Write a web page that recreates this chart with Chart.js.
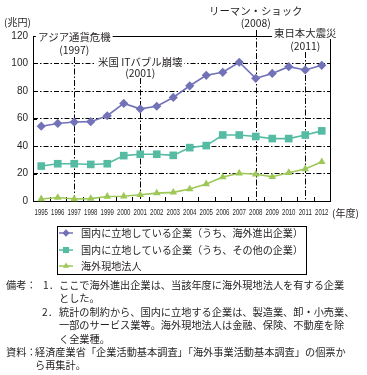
<!DOCTYPE html>
<html>
<head>
<meta charset="utf-8">
<script src="https://cdn.jsdelivr.net/npm/chart.js@4.4.0/dist/chart.umd.min.js"></script>
<style>
  body { margin:0; background:#fff; width:367px; height:375px; overflow:hidden; position:relative;
         font-family:"Noto Sans CJK JP", sans-serif; color:#231f20; }
  #c { position:absolute; left:0; top:0; }
  .n { position:absolute; font-size:10.2px; line-height:13.4px; white-space:nowrap; }
</style>
</head>
<body>
<canvas id="c" width="367" height="278"></canvas>

<div class="n" style="left:6px;top:278px">備考：</div>
<div class="n" style="left:43px;top:278px">1．</div>
<div class="n" style="left:59px;top:278px">ここで海外進出企業は、当該年度に海外現地法人を有する企業<br>とした。</div>
<div class="n" style="left:42px;top:305px">2．</div>
<div class="n" style="left:59px;top:305px">統計の制約から、国内に立地する企業は、製造業、卸・小売業、<br>一部のサービス業等。海外現地法人は金融、保険、不動産を除<br>く全業種。</div>
<div class="n" style="left:6px;top:345px">資料：</div>
<div class="n" style="left:35px;top:345px">経済産業省「企業活動基本調査」「海外事業活動基本調査」の個票か<br>ら再集計。</div>

<script>
// データ
const years = ['1995','1996','1997','1998','1999','2000','2001','2002','2003',
               '2004','2005','2006','2007','2008','2009','2010','2011','2012'];
const seriesNames = [
  '国内に立地している企業（うち、海外進出企業）',
  '国内に立地している企業（うち、その他の企業）',
  '海外現地法人'
];
const kaigaiShinshutsu = [54.4,56.4,57.4,57.7,62.0,71.0,67.0,68.9,75.3,83.8,91.4,93.6,100.9,89.2,92.8,97.7,95.3,98.7];
const sonotaKigyo      = [25.4,27.1,27.1,26.6,27.1,33.0,34.0,34.0,33.2,38.8,40.3,48.0,48.0,46.9,45.4,45.4,48.0,51.0];
const genchiHojin      = [1.5,2.5,1.5,1.7,3.3,3.5,4.5,5.7,6.3,8.7,12.4,17.4,20.2,19.5,17.6,20.6,23.3,28.5];
const yMin = 0, yMax = 120, yStep = 20;
const eventNames = ['アジア通貨危機', '米国 ITバブル崩壊', 'リーマン・ショック', '東日本大震災'];
const eventYears = ['1997', '2001', '2008', '2011'];

// 注記の縦位置（名前, 年, 線の始まり）
const eventLayout = [
  { nameY: 37, yearY: 50, lineTop: 57 },
  { nameY: 62, yearY: 73, lineTop: 78 },
  { nameY: 11, yearY: 23, lineTop: 30 },
  { nameY: 33, yearY: 46, lineTop: 52 }
];

const colors = ['#7272b8', '#55bba2', '#9dc757'];
const ink = '#231f20';
const cjk = '"Noto Sans CJK JP", sans-serif';

const framePlugin = {
  id: 'frame',
  beforeDatasetsDraw(chart) {
    const { ctx, chartArea: a, scales: { x, y } } = chart;
    ctx.save();
    // イベントの縦線
    ctx.strokeStyle = '#000';
    ctx.lineWidth = 1;
    ctx.setLineDash([6, 2, 1.5, 2]);
    eventYears.forEach((yr, i) => {
      const px = Math.round(x.getPixelForValue(years.indexOf(yr))) + 0.5;
      ctx.beginPath();
      ctx.moveTo(px, eventLayout[i].lineTop);
      ctx.lineTo(px, a.bottom);
      ctx.stroke();
    });
    // 枠
    ctx.setLineDash([]);
    ctx.strokeRect(Math.round(a.left) + 0.5, Math.round(a.top) + 0.5,
                   Math.round(a.right - a.left), Math.round(a.bottom - a.top));
    // 内向きの目盛り
    ctx.beginPath();
    for (let i = 0; i < years.length - 1; i++) {
      const px = Math.round((x.getPixelForValue(i) + x.getPixelForValue(i + 1)) / 2) + 0.5;
      ctx.moveTo(px, a.bottom);
      ctx.lineTo(px, a.bottom - 4);
    }
    for (let v = yMin; v <= yMax; v += yStep) {
      const py = Math.round(y.getPixelForValue(v)) + 0.5;
      ctx.moveTo(a.left, py);
      ctx.lineTo(a.left + 4, py);
    }
    ctx.stroke();
    ctx.restore();
  },
  afterDraw(chart) {
    const { ctx, chartArea: a, scales: { x } } = chart;
    ctx.save();
    // 年の目盛りラベル（縦長の書体に見せるため横を詰める）
    ctx.fillStyle = ink;
    ctx.textAlign = 'center';
    ctx.textBaseline = 'middle';
    ctx.font = '9.2px "Liberation Sans", sans-serif';
    x.ticks.forEach((t, i) => {
      ctx.save();
      ctx.translate(x.getPixelForTick(i), a.bottom + 11);
      ctx.scale(0.66, 1);
      ctx.fillText(x.getLabelForValue(t.value), 0, 0);
      ctx.restore();
    });

    ctx.font = '10.4px ' + cjk;
    eventNames.forEach((name, i) => {
      const px = x.getPixelForValue(years.indexOf(eventYears[i]));
      const lay = eventLayout[i];
      const w = ctx.measureText(name).width;
      ctx.fillStyle = '#fff';
      ctx.fillRect(px - w / 2 - 2, lay.nameY - 6, w + 4, 12);
      ctx.fillStyle = ink;
      ctx.fillText(name, px, lay.nameY);
      ctx.fillText('(' + eventYears[i] + ')', px, lay.yearY);
    });
    // 単位
    ctx.textAlign = 'left';
    ctx.font = '10px ' + cjk;
    ctx.fillText('(兆円)', 4, 22);
    ctx.fillText('(年度)', 332, 213);

    // 凡例
    const bx = 57, by = 226, bw = 249, bh = 48;
    ctx.strokeStyle = '#000';
    ctx.lineWidth = 1;
    ctx.strokeRect(bx + 0.5, by + 0.5, bw, bh);
    const rowsY = [233, 250, 266];
    chart.data.datasets.forEach((ds, i) => {
      const ry = rowsY[i];
      ctx.strokeStyle = ds.borderColor;
      ctx.lineWidth = 1.5;
      ctx.beginPath();
      ctx.moveTo(59, ry);
      ctx.lineTo(73, ry);
      ctx.stroke();
      ctx.fillStyle = ds.pointBackgroundColor;
      Chart.helpers.drawPoint(ctx, {
        pointStyle: ds.pointStyle, radius: ds.pointRadius * 0.8, rotation: 0, borderWidth: 0
      }, 66, ry);
      ctx.fillStyle = ink;
      ctx.font = '10.1px ' + cjk;
      ctx.fillText(ds.label, 81, ry);
    });
    ctx.restore();
  }
};

function makeSet(label, data, color, style, radius) {
  return {
    label, data,
    borderColor: color, backgroundColor: color,
    pointBackgroundColor: color, pointBorderColor: color,
    pointStyle: style, pointRadius: radius, pointBorderWidth: 0,
    borderWidth: 1.6, tension: 0, clip: false
  };
}

new Chart(document.getElementById('c'), {
  type: 'line',
  data: {
    labels: years,
    datasets: [
      makeSet(seriesNames[0], kaigaiShinshutsu, colors[0], 'rectRot', 4.6),
      makeSet(seriesNames[1], sonotaKigyo, colors[1], 'rect', 5.4),
      makeSet(seriesNames[2], genchiHojin, colors[2], 'triangle', 4.4)
    ]
  },
  options: {
    responsive: false,
    animation: false,
    events: [],
    layout: { padding: { top: 36, right: 37, bottom: 57, left: 0 } },
    plugins: { legend: { display: false }, tooltip: { enabled: false } },
    scales: {
      x: {
        offset: true,
        grid: { display: false, drawTicks: false },
        border: { display: false },
        ticks: { display: false, autoSkip: false },
        afterFit(s) { s.height = 20; }
      },
      y: {
        min: yMin, max: yMax,
        grid: {
          drawTicks: false,
          color: c => (c.tick && (c.tick.value === yMin || c.tick.value === yMax)) ? 'rgba(0,0,0,0)' : '#000',
          lineWidth: 1
        },
        border: { display: false, dash: [5, 2, 1.5, 2] },
        ticks: {
          stepSize: yStep, padding: 5, color: ink,
          font: { family: '"Liberation Sans", sans-serif', size: 10 }
        },
        afterFit(s) { s.width = 33; }
      }
    }
  },
  plugins: [framePlugin]
});
</script>
</body>
</html>
